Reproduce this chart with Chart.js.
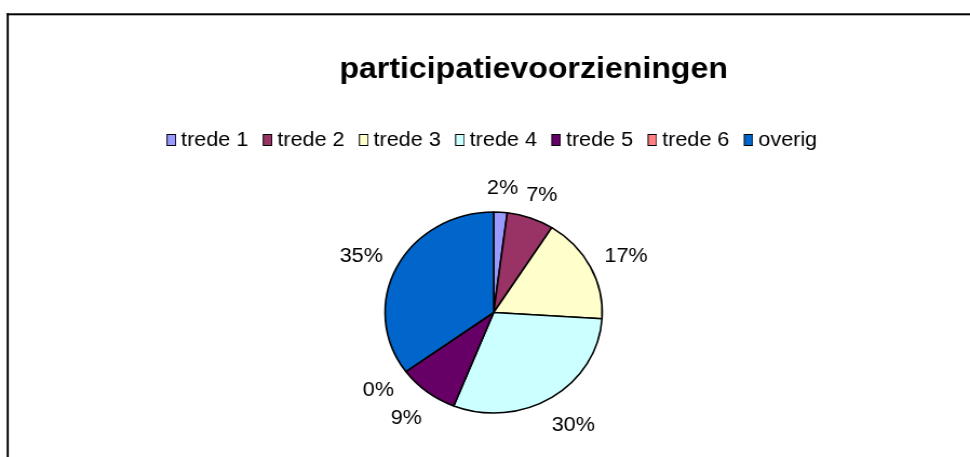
<!DOCTYPE html>
<html><head><meta charset="utf-8">
<script src="https://cdn.jsdelivr.net/npm/chart.js@4"></script>
<style>
html,body{margin:0;padding:0;background:#fff;overflow:hidden;width:970px;height:457px}
#wrap{width:898px;height:465px;transform:scaleX(1.0802);transform-origin:0 0}
canvas{display:block}
</style></head><body>
<div id="wrap"><canvas id="c" width="898" height="465"></canvas></div>
<script>
const categories = ['trede 1', 'trede 2', 'trede 3', 'trede 4', 'trede 5', 'trede 6', 'overig'];
const shares = [2, 7, 17, 30, 9, 0, 35];
const chartTitle = 'participatievoorzieningen';
const sliceColors = ['#9999FF', '#993366', '#FFFFCC', '#CCFFFF', '#660066', '#FF8080', '#0066CC'];

const FONT = '"Liberation Sans", Arial, sans-serif';

// legend swatches (box at the right of a small transparent margin)
function makeSwatch(color) {
  const cv = document.createElement('canvas');
  cv.width = 11; cv.height = 12;
  const g = cv.getContext('2d');
  g.fillStyle = color;
  g.fillRect(2, 0, 9, 12);
  g.strokeStyle = '#000';
  g.lineWidth = 1;
  g.strokeRect(2.5, 0.5, 8, 11);
  return cv;
}
const swatches = sliceColors.map(makeSwatch);

const frameAndTitle = {
  id: 'frameAndTitle',
  beforeDraw(chart) {
    const ctx = chart.ctx;
    ctx.save();
    ctx.fillStyle = '#fff';
    ctx.fillRect(0, 0, chart.width, chart.height);
    ctx.fillStyle = '#000';
    ctx.fillRect(6.2, 13.3, 1.9, chart.height);
    ctx.fillRect(6.2, 13.3, chart.width, 2);
    ctx.restore();
  },
  afterDraw(chart) {
    const ctx = chart.ctx;
    ctx.save();
    ctx.fillStyle = '#000';
    ctx.font = 'bold 29.7px ' + FONT;
    ctx.textAlign = 'center';
    ctx.textBaseline = 'alphabetic';
    ctx.fillText(chartTitle, 494, 78);
    ctx.restore();
  }
};

const pctLabels = {
  id: 'pctLabels',
  afterDatasetsDraw(chart) {
    const ctx = chart.ctx;
    const meta = chart.getDatasetMeta(0);
    const data = chart.data.datasets[0].data;
    const total = data.reduce((a, b) => a + b, 0);
    ctx.save();
    ctx.fillStyle = '#000';
    ctx.font = '20px ' + FONT;
    ctx.textAlign = 'center';
    ctx.textBaseline = 'middle';
    meta.data.forEach((arc, i) => {
      const p = arc.getProps(['x', 'y', 'startAngle', 'endAngle', 'outerRadius'], true);
      const mid = (p.startAngle + p.endAngle) / 2;
      const c = Math.cos(mid), s = Math.sin(mid);
      const txt = Math.round(data[i] / total * 100) + '%';
      const w = ctx.measureText(txt).width;
      const r = p.outerRadius + 17;
      const tx = p.x + c * r + c * w / 2;
      const ty = p.y + s * r + (s > 0 ? s * 16 : s * 6.5);
      ctx.fillText(txt, tx, ty);
    });
    ctx.restore();
  }
};

new Chart(document.getElementById('c'), {
  type: 'pie',
  data: {
    labels: categories,
    datasets: [{
      data: shares,
      backgroundColor: sliceColors,
      borderColor: '#000',
      borderWidth: 1.6,
      radius: 100.5
    }]
  },
  options: {
    responsive: false,
    devicePixelRatio: 1,
    animation: false,
    events: [],
    layout: { padding: { top: 113.3, left: 16, right: 0, bottom: 0 } },
    plugins: {
      tooltip: { enabled: false },
      title: { display: false },
      legend: {
        position: 'top',
        labels: {
          usePointStyle: true,
          pointStyleWidth: 0.1,
          boxHeight: 12,
          padding: 16.7,
          color: '#000',
          font: { family: FONT, size: 20 },
          generateLabels(chart) {
            return Chart.overrides.pie.plugins.legend.labels.generateLabels(chart)
              .map((l, i) => Object.assign(l, { pointStyle: swatches[i], lineWidth: 1, strokeStyle: '#000' }));
          }
        }
      }
    }
  },
  plugins: [frameAndTitle, pctLabels]
});
</script>
</body></html>
